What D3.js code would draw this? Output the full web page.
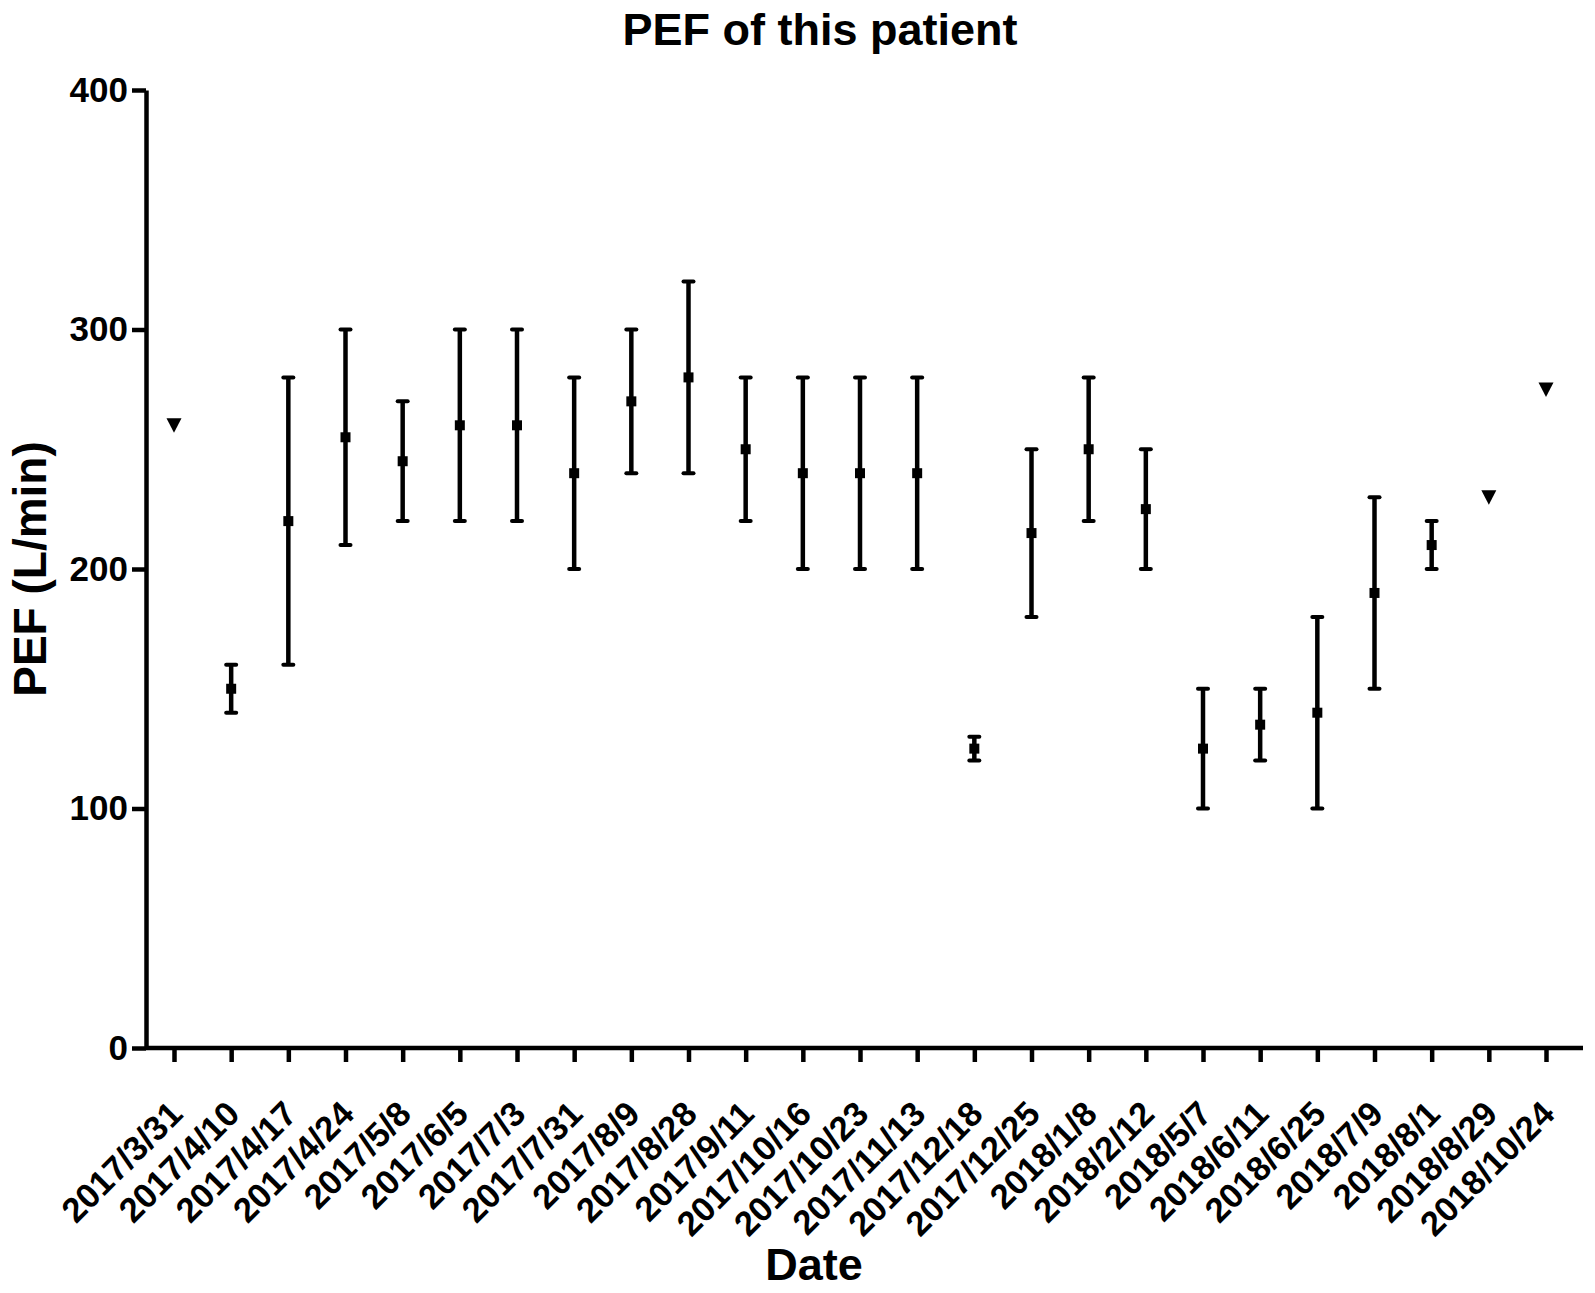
<!DOCTYPE html>
<html>
<head>
<meta charset="utf-8">
<script src="https://cdn.jsdelivr.net/npm/d3@7"></script>
<style>
  body { margin: 0; background: #fff; }
  text { font-family: "Liberation Sans", Arial, sans-serif; font-weight: bold; fill: #000; }
</style>
</head>
<body>
<div id="chart-area"></div>
<script>
// visit dates
const dates = ["2017/3/31", "2017/4/10", "2017/4/17", "2017/4/24", "2017/5/8", "2017/6/5",
    "2017/7/3", "2017/7/31", "2017/8/9", "2017/8/28", "2017/9/11", "2017/10/16",
    "2017/10/23", "2017/11/13", "2017/12/18", "2017/12/25", "2018/1/8", "2018/2/12",
    "2018/5/7", "2018/6/11", "2018/6/25", "2018/7/9", "2018/8/1", "2018/8/29", "2018/10/24"];
// mean PEF for each visit
const pefMean = [260, 150, 220, 255, 245, 260, 260, 240, 270, 280, 250, 240,
    240, 240, 125, 215, 250, 225, 125, 135, 140, 190, 210, 230, 275];
// range (null = single reading, drawn as triangle)
const pefLow = [null, 140, 160, 210, 220, 220, 220, 200, 240, 240, 220, 200,
    200, 200, 120, 180, 220, 200, 100, 120, 100, 150, 200, null, null];
const pefHigh = [null, 160, 280, 300, 270, 300, 300, 280, 300, 320, 280, 280,
    280, 280, 130, 250, 280, 250, 150, 150, 180, 230, 220, null, null];
const yTicks = [0, 100, 200, 300, 400];

const data = dates.map((d, i) => ({date: d, mean: pefMean[i], low: pefLow[i], high: pefHigh[i]}));

let width = 1595;
let height = 1293;
const svg = d3.select("#chart-area")
    .append("svg")
    .attr("width", width)
    .attr("height", height);

const margin = {top: 90, right: 12, bottom: 245, left: 146};
const innerW = width - margin.left - margin.right;
const innerH = height - margin.top - margin.bottom;

const g = svg.append("g")
    .attr("transform", "translate(" + margin.left + "," + margin.top + ")");

// scales
const y = d3.scaleLinear()
    .domain([0, 400])
    .range([innerH, 0]);

const x = d3.scalePoint()
    .domain(dates)
    .range([28, 1400]);

// y axis
const yAxis = g.append("g")
    .call(d3.axisLeft(y).tickValues(yTicks).tickSize(14).tickSizeOuter(0).tickPadding(4));
yAxis.select(".domain").attr("stroke", "#000").attr("stroke-width", 4.5);
yAxis.selectAll(".tick line").attr("stroke", "#000").attr("stroke-width", 4.5);
yAxis.selectAll(".tick text")
    .attr("font-size", 35)
    .attr("font-family", "Liberation Sans, Arial, sans-serif")
    .attr("font-weight", "bold");

// x axis
const xAxis = g.append("g")
    .attr("transform", "translate(0," + innerH + ")")
    .call(d3.axisBottom(x).tickSize(14).tickSizeOuter(0));
xAxis.select(".domain")
    .attr("d", "M0,0H" + innerW)
    .attr("stroke", "#000").attr("stroke-width", 4.5);
xAxis.selectAll(".tick line").attr("stroke", "#000").attr("stroke-width", 4.5);
xAxis.selectAll(".tick text")
    .attr("font-size", 34.5)
    .attr("font-family", "Liberation Sans, Arial, sans-serif")
    .attr("font-weight", "bold")
    .attr("text-anchor", "end")
    .attr("x", 0)
    .attr("y", 0)
    .attr("dy", 0)
    .attr("transform", "translate(10,68) rotate(-45)");

// axis titles
svg.append("text")
    .attr("x", 820)
    .attr("y", 45)
    .attr("text-anchor", "middle")
    .attr("font-size", 45)
    .text("PEF of this patient");

svg.append("text")
    .attr("transform", "translate(46," + (margin.top + innerH / 2) + ") rotate(-90)")
    .attr("text-anchor", "middle")
    .attr("font-size", 46)
    .text("PEF (L/min)");

svg.append("text")
    .attr("x", 814)
    .attr("y", 1280)
    .attr("text-anchor", "middle")
    .attr("font-size", 45)
    .text("Date");

// error bars
const withRange = data.filter(d => d.low !== null);
const bars = g.selectAll(".err")
    .data(withRange)
    .enter().append("g")
    .attr("class", "err");
bars.append("line")
    .attr("x1", d => x(d.date)).attr("x2", d => x(d.date))
    .attr("y1", d => y(d.low)).attr("y2", d => y(d.high))
    .attr("stroke", "#000").attr("stroke-width", 4.5);
bars.selectAll(".cap")
    .data(d => [d.low, d.high].map(v => ({date: d.date, v: v})))
    .enter().append("line")
    .attr("class", "cap")
    .attr("x1", d => x(d.date) - 5).attr("x2", d => x(d.date) + 5)
    .attr("y1", d => y(d.v)).attr("y2", d => y(d.v))
    .attr("stroke", "#000").attr("stroke-width", 4)
    .attr("stroke-linecap", "round");
bars.append("rect")
    .attr("x", d => x(d.date) - 5)
    .attr("y", d => y(d.mean) - 5)
    .attr("width", 10)
    .attr("height", 10)
    .attr("fill", "#000");

// single readings as down triangles
const singles = data.filter(d => d.low === null);
g.selectAll(".tri")
    .data(singles)
    .enter().append("path")
    .attr("class", "tri")
    .attr("d", d => {
        const cx = x(d.date), cy = y(d.mean);
        return "M" + (cx - 7.5) + "," + (cy - 7) + "L" + (cx + 7.5) + "," + (cy - 7) + "L" + cx + "," + (cy + 7.5) + "Z";
    })
    .attr("fill", "#000");
</script>
</body>
</html>
